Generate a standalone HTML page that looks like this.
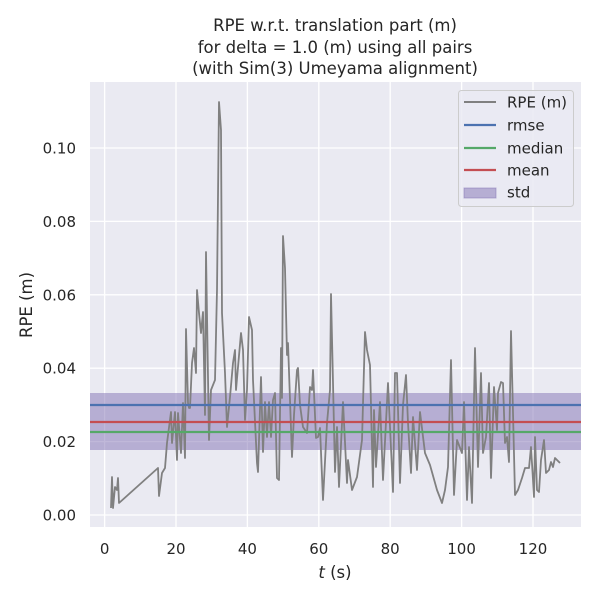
<!DOCTYPE html>
<html><head><meta charset="utf-8"><style>
html,body{margin:0;padding:0;background:#fff}
text{font-family:"DejaVu Sans","Liberation Sans",sans-serif;fill:#262626}
</style></head><body>
<svg width="600" height="600" viewBox="0 0 600 600" xmlns="http://www.w3.org/2000/svg">
<rect x="0" y="0" width="600" height="600" fill="#fff"/>
<rect x="90" y="82" width="491" height="445" fill="#eaeaf2"/>
<g stroke="#fff" stroke-width="1.3">
<line x1="104.6" y1="82" x2="104.6" y2="527"/>
<line x1="176" y1="82" x2="176" y2="527"/>
<line x1="247.4" y1="82" x2="247.4" y2="527"/>
<line x1="318.8" y1="82" x2="318.8" y2="527"/>
<line x1="390.2" y1="82" x2="390.2" y2="527"/>
<line x1="461.6" y1="82" x2="461.6" y2="527"/>
<line x1="533" y1="82" x2="533" y2="527"/>
<line x1="90" y1="515" x2="581" y2="515"/>
<line x1="90" y1="441.6" x2="581" y2="441.6"/>
<line x1="90" y1="368.2" x2="581" y2="368.2"/>
<line x1="90" y1="294.8" x2="581" y2="294.8"/>
<line x1="90" y1="221.4" x2="581" y2="221.4"/>
<line x1="90" y1="148" x2="581" y2="148"/>
</g>
<rect x="90" y="393" width="491" height="57" fill="#8172b3" fill-opacity="0.5"/>
<polyline fill="none" stroke="#808080" stroke-width="1.8" stroke-linejoin="round" points="111,508 112,477 113,508 115,487 117,490 118,478 119,503 158,468 159,496 162,473 165,468 167,443 171,412 172,443 175,412 177,460 178,413 181,453 183,403 185,458 186,329 188,403 189,408 190,408 192,363 194,348 196,373 197,290 199,313 201,333 203,312 205,415 206,252 209,440 211,390 215,380 217,290 219,102 221,130 222,313 225,373 227,427 230,397 233,363 235,350 236,390 238,367 241,333 243,350 245,420 247,390 249,317 252,330 253,380 257,463 258,472 261,377 263,452 265,402 267,437 269,402 271,437 273,400 275,393 277,478 279,480 281,348 282,398 283,236 285,268 287,355 288,343 292,457 294,415 297,370 298,368 300,405 303,427 307,433 310,387 312,390 313,370 316,438 318,437 320,428 323,500 327,423 330,390 331,294 335,472 337,427 339,487 343,402 347,483 348,460 352,490 357,477 362,440 365,332 367,350 370,365 373,487 374,410 376,467 380,402 383,480 388,383 393,492 395,373 397,373 400,483 403,405 406,375 408,423 411,473 413,417 417,470 420,412 425,453 430,465 437,490 442,503 445,490 448,467 451,360 454,495 457,440 462,453 464,402 467,500 469,447 472,503 475,348 478,467 481,373 483,453 486,437 489,383 491,478 494,387 497,430 498,393 501,382 503,383 505,443 507,437 509,462 511,331 513,413 515,495 518,490 522,478 525,468 529,468 531,447 533,480 534,497 535,437 537,490 539,492 541,460 544,440 546,473 549,470 551,462 553,467 555,458 560,463"/>
<line x1="90" y1="405" x2="581" y2="405" stroke="#4c72b0" stroke-width="2.3"/>
<line x1="90" y1="432" x2="581" y2="432" stroke="#55a868" stroke-width="2.3"/>
<line x1="90" y1="422" x2="581" y2="422" stroke="#c44e52" stroke-width="2.3"/>
<g font-size="15" text-anchor="end">
<text x="76" y="520.5">0.00</text>
<text x="76" y="447">0.02</text>
<text x="76" y="373.7">0.04</text>
<text x="76" y="300.3">0.06</text>
<text x="76" y="226.9">0.08</text>
<text x="76" y="153.5">0.10</text>
</g>
<g font-size="15" text-anchor="middle">
<text x="104.6" y="554">0</text>
<text x="176" y="554">20</text>
<text x="247.4" y="554">40</text>
<text x="318.8" y="554">60</text>
<text x="390.2" y="554">80</text>
<text x="461.6" y="554">100</text>
<text x="533" y="554">120</text>
</g>
<text x="335" y="578" font-size="16.5" text-anchor="middle"><tspan font-style="italic">t</tspan> (s)</text>
<text transform="translate(32,305) rotate(-90)" font-size="16.5" text-anchor="middle">RPE (m)</text>
<g font-size="16.5" text-anchor="middle">
<text x="335" y="31">RPE w.r.t. translation part (m)</text>
<text x="335" y="53">for delta = 1.0 (m) using all pairs</text>
<text x="335" y="74">(with Sim(3) Umeyama alignment)</text>
</g>
<rect x="458.5" y="90.5" width="115" height="116" rx="3" fill="#eaeaf2" fill-opacity="0.8" stroke="#cccccc" stroke-width="1"/>
<line x1="464" y1="102" x2="496" y2="102" stroke="#808080" stroke-width="2"/>
<line x1="464" y1="125" x2="496" y2="125" stroke="#4c72b0" stroke-width="2.3"/>
<line x1="464" y1="148" x2="496" y2="148" stroke="#55a868" stroke-width="2.3"/>
<line x1="464" y1="170" x2="496" y2="170" stroke="#c44e52" stroke-width="2.3"/>
<rect x="464" y="188" width="32" height="10" fill="#8172b3" fill-opacity="0.5" stroke="#8172b3" stroke-opacity="0.5"/>
<g font-size="15">
<text x="507" y="107.5">RPE (m)</text>
<text x="507" y="130.5">rmse</text>
<text x="507" y="153.5">median</text>
<text x="507" y="175.5">mean</text>
<text x="507" y="197.5">std</text>
</g>
</svg>
</body></html>
